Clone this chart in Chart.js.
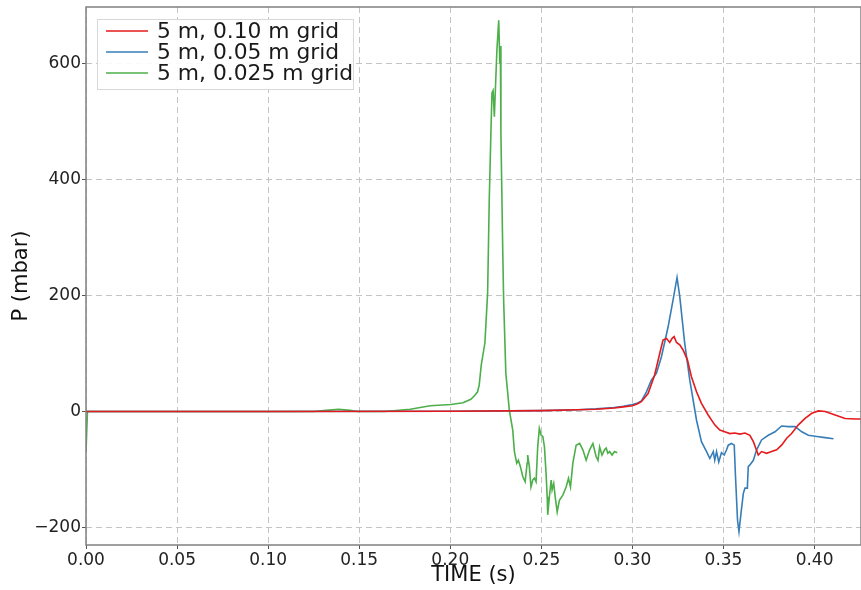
<!DOCTYPE html>
<html>
<head>
<meta charset="utf-8">
<script src="https://cdn.jsdelivr.net/npm/chart.js@4.4.1/dist/chart.umd.min.js"></script>
<style>
html,body{margin:0;padding:0;background:#fff;}
</style>
</head>
<body>
<canvas id="chart" width="861" height="590"></canvas>
<script>
// ================= data =================
const seriesLabels = ['5 m, 0.10 m grid', '5 m, 0.05 m grid', '5 m, 0.025 m grid'];
const seriesColors = ['#e41a1c', '#377eb8', '#4daf4a'];

const xTicks = [0, 0.05, 0.10, 0.15, 0.20, 0.25, 0.30, 0.35, 0.40];
const yTicks = [-200, 0, 200, 400, 600];

// 0.10 m grid
const redTime = [0, 0.1, 0.2, 0.25, 0.27, 0.28, 0.29, 0.295, 0.3, 0.3025, 0.3049, 0.3086, 0.3122, 0.315, 0.3168,
  0.3187, 0.3205, 0.3218, 0.3229, 0.3242, 0.326, 0.3278, 0.3302, 0.3324, 0.3352, 0.3379, 0.3416, 0.3452, 0.348,
  0.3507, 0.3535, 0.3562, 0.359, 0.3618, 0.3645, 0.3664, 0.3677, 0.3691, 0.3709, 0.3737, 0.3764, 0.3792, 0.3819,
  0.3847, 0.3874, 0.3911, 0.3948, 0.3985, 0.4021, 0.4058, 0.4113, 0.4168, 0.4223, 0.43];
const redP = [0, 0, 0.5, 1.5, 3, 4, 6, 8, 10, 13, 17, 31, 63, 100, 123,
  126, 119, 126, 129, 119, 115, 106, 89, 60, 34, 14, -6, -23, -32,
  -35, -38, -37, -39, -37, -41, -52, -63, -75, -69, -72, -69, -66, -58,
  -46, -38, -23, -12, -3, 1, 0, -6, -12, -13, -13];

// 0.05 m grid
const blueTime = [0, 0.1, 0.2, 0.25, 0.27, 0.28, 0.29, 0.295, 0.3, 0.3025, 0.3049, 0.3077, 0.3104, 0.3132, 0.3159,
  0.3196, 0.3223, 0.3245, 0.326, 0.3287, 0.3315, 0.3352, 0.3379, 0.3407, 0.3425, 0.3444, 0.3452, 0.3462, 0.3474,
  0.3489, 0.3504, 0.3517, 0.3526, 0.3544, 0.3559, 0.3566, 0.3577, 0.3585, 0.3596, 0.3609, 0.3618, 0.3631, 0.3636,
  0.3645, 0.3664, 0.3682, 0.3709, 0.3746, 0.3783, 0.3819, 0.3856, 0.3893, 0.393, 0.3966, 0.4012, 0.4058, 0.4104];
const blueP = [0, 0, 0.5, 1.5, 3, 4.5, 7, 9, 12, 14, 18, 34, 54, 66, 94,
  146, 192, 231, 198, 118, 54, -15, -52, -69, -81, -69, -84, -69, -87,
  -71, -75, -66, -58, -55, -58, -112, -187, -207, -176, -141, -132, -132, -95,
  -92, -84, -66, -49, -41, -35, -25, -26, -26, -35, -41, -43, -45, -47];

// 0.025 m grid
const greenTime = [0, 0.0008, 0.1, 0.125, 0.132, 0.1387, 0.145, 0.149, 0.164, 0.178, 0.189, 0.2003, 0.207, 0.2113,
  0.2135, 0.215, 0.2159, 0.217, 0.219, 0.2205, 0.2214, 0.2223, 0.2229, 0.2235, 0.2242, 0.2256, 0.2266, 0.2272,
  0.2275, 0.2278, 0.2288, 0.2293, 0.2305, 0.2312, 0.2324, 0.2343, 0.2352, 0.2365, 0.2374, 0.2385, 0.2398, 0.2411,
  0.2422, 0.2425, 0.2434, 0.2443, 0.2453, 0.2462, 0.2471, 0.248, 0.2489, 0.2499, 0.2508, 0.2517, 0.2526, 0.2532,
  0.2535, 0.2544, 0.2554, 0.2559, 0.2568, 0.2576, 0.2587, 0.2599, 0.2618, 0.2636, 0.2649, 0.266, 0.2673, 0.2691,
  0.271, 0.2728, 0.2746, 0.2765, 0.2783, 0.2801, 0.2811, 0.282, 0.2833, 0.2847, 0.2856, 0.2865, 0.2875, 0.2888,
  0.2902, 0.2917];
const greenP = [-70, 0, 0, 0, 2, 4, 2, 0, 0, 4, 10, 12, 15, 21,
  28, 34, 46, 80, 118, 204, 365, 480, 549, 553, 508, 623, 674, 600,
  630, 480, 278, 192, 66, 43, 3, -32, -69, -89, -84, -95, -112, -121,
  -89, -75, -95, -130, -118, -115, -121, -61, -29, -41, -43, -61, -107, -147,
  -178, -147, -118, -135, -124, -147, -173, -153, -144, -130, -115, -130, -89, -58,
  -55, -66, -84, -66, -55, -78, -84, -61, -75, -66, -63, -72, -69, -75,
  -69, -71];

const toPoints = (t, p) => t.map((v, i) => ({x: v, y: p[i]}));

// ================= frame + legend inside the axes =================
const framePlugin = {
  id: 'frame',
  afterDatasetsDraw(chart) {
    const {ctx, chartArea: a} = chart;
    ctx.save();
    ctx.strokeStyle = '#808080';
    ctx.lineWidth = 1.5;
    ctx.strokeRect(a.left, a.top, a.right - a.left, a.bottom - a.top);

    // legend box
    const bx = a.left + 11, by = a.top + 12, bw = 256, bh = 70;
    ctx.fillStyle = 'rgba(255,255,255,0.9)';
    ctx.fillRect(bx, by, bw, bh);
    ctx.strokeStyle = '#d8d8d8';
    ctx.lineWidth = 1;
    ctx.strokeRect(bx + 0.5, by + 0.5, bw, bh);
    ctx.font = '21.8px "DejaVu Sans"';
    ctx.textBaseline = 'middle';
    seriesLabels.forEach((lab, i) => {
      const y = by + 12 + i * 21;
      ctx.strokeStyle = seriesColors[i];
      ctx.lineWidth = 1.5;
      ctx.beginPath();
      ctx.moveTo(bx + 9, y);
      ctx.lineTo(bx + 51, y);
      ctx.stroke();
      ctx.fillStyle = '#1a1a1a';
      ctx.fillText(lab, bx + 60, y + 1);
    });
    ctx.restore();
  }
};

const gridOpts = {
  color: '#c4c4c4',
  lineWidth: 1,
  drawTicks: true,
  tickLength: 4,
  tickColor: '#555',
  tickBorderDash: []
};

const ctx = document.getElementById('chart').getContext('2d');
const chart = new Chart(ctx, {
  type: 'line',
  data: {
    datasets: [
      {label: seriesLabels[0], data: toPoints(redTime, redP), borderColor: seriesColors[0]},
      {label: seriesLabels[1], data: toPoints(blueTime, blueP), borderColor: seriesColors[1]},
      {label: seriesLabels[2], data: toPoints(greenTime, greenP), borderColor: seriesColors[2]}
    ]
  },
  options: {
    responsive: false,
    animation: false,
    parsing: false,
    layout: {padding: {top: 7, right: 0, left: 0, bottom: 0}},
    elements: {
      line: {borderWidth: 1.6, tension: 0},
      point: {radius: 0}
    },
    plugins: {legend: {display: false}, tooltip: {enabled: false}},
    scales: {
      x: {
        type: 'linear',
        min: 0,
        max: 0.4255,
        afterBuildTicks: s => { s.ticks = xTicks.map(v => ({value: v})); },
        afterFit: s => { s.height = 45; s.paddingLeft = 0; s.paddingRight = 0; },
        grid: gridOpts,
        border: {display: false, dash: [6, 4]},
        ticks: {
          padding: 1,
          color: '#222',
          font: {family: 'DejaVu Sans', size: 17},
          maxRotation: 0,
          callback: v => v.toFixed(2)
        },
        title: {
          display: true,
          text: 'TIME (s)',
          color: '#111',
          font: {family: 'DejaVu Sans', size: 21},
          padding: {top: 0, bottom: 2}
        }
      },
      y: {
        type: 'linear',
        min: -230,
        max: 697,
        afterBuildTicks: s => { s.ticks = yTicks.map(v => ({value: v})); },
        afterFit: s => { s.width = 86; s.paddingTop = 0; s.paddingBottom = 0; },
        grid: gridOpts,
        border: {display: false, dash: [6, 4]},
        ticks: {
          padding: 1,
          color: '#222',
          font: {family: 'DejaVu Sans', size: 17},
          callback: v => String(v).replace('-', '\u2212')
        },
        title: {
          display: true,
          text: 'P (mbar)',
          color: '#111',
          font: {family: 'DejaVu Sans', size: 21},
          padding: {top: 9, bottom: 0}
        }
      }
    }
  },
  plugins: [framePlugin]
});
</script>
</body>
</html>
